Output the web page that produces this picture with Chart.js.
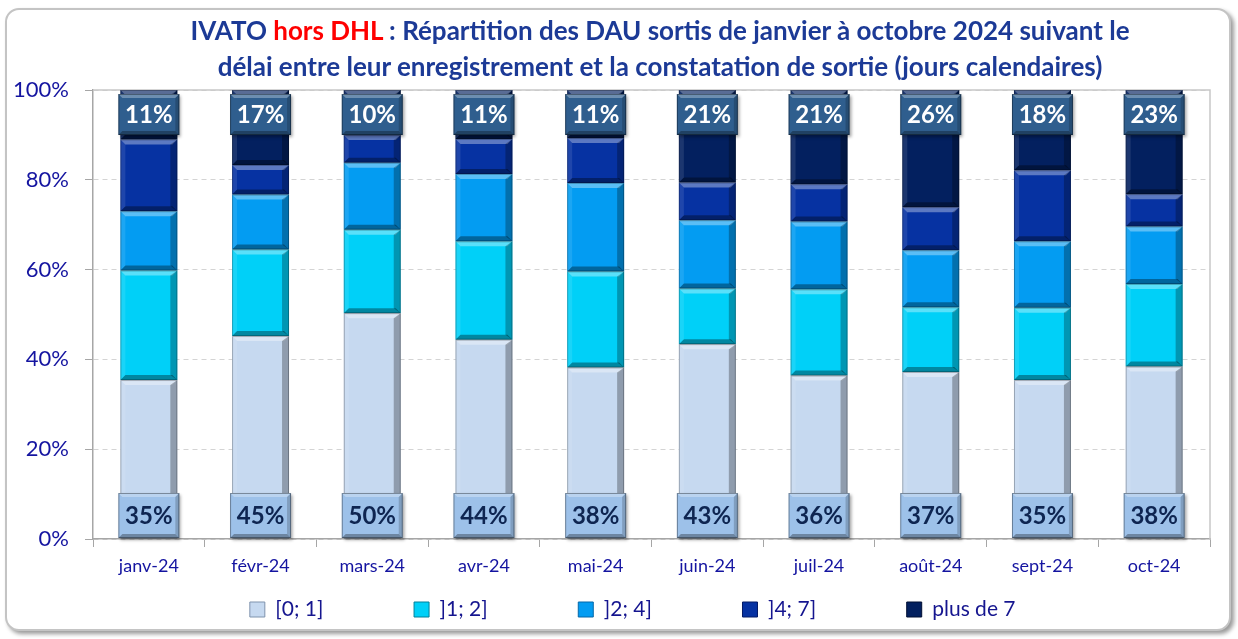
<!DOCTYPE html>
<html>
<head>
<meta charset="utf-8">
<script src="https://cdn.jsdelivr.net/npm/chart.js@4/dist/chart.umd.min.js"></script>
<style>
  html, body { margin: 0; padding: 0; background: #fff; }
  body { width: 1238px; height: 639px; position: relative; overflow: hidden; }
  .card {
    position: absolute; left: 5px; top: 8px; width: 1222px; height: 619px;
    border: 2px solid #c4c4c4; border-radius: 14px;
    box-shadow: 3px 3px 4px rgba(0,0,0,0.4);
    background: #fff;
  }
  .title {
    position: absolute; left: 60px; width: 1200px; top: 12px;
    text-align: center; font-family: Lato, 'Noto Sans', sans-serif;
    font-weight: bold; font-size: 26px; line-height: 36px; color: #1c3a96;
  }
  .title .red { color: #f00; }
  canvas { position: absolute; left: 0; top: 0; }
</style>
</head>
<body>
<div class="card"></div>
<canvas id="chart" width="1238" height="639"></canvas>
<div class="title">IVATO <span class="red">hors DHL</span> : Répartition des DAU sortis de janvier à octobre 2024 suivant le<br>délai entre leur enregistrement et la constatation de sortie (jours calendaires)</div>
<script>
const months = ['janv-24', 'févr-24', 'mars-24', 'avr-24', 'mai-24', 'juin-24', 'juil-24', 'août-24', 'sept-24', 'oct-24'];
const seriesNames = ['[0; 1]', ']1; 2]', ']2; 4]', ']4; 7]', 'plus de 7'];

const d0to1  = [35.4, 45.2, 50.3, 44.4, 38.2, 43.4, 36.4, 37.2, 35.4, 38.4];
const d1to2  = [24.4, 19.3, 18.6, 21.9, 21.4, 12.4, 19.2, 14.4, 16.1, 18.4];
const d2to4  = [13.2, 12.2, 14.9, 15.0, 19.7, 15.2, 15.1, 12.7, 14.8, 12.8];
const d4to7  = [16.0,  6.6,  6.2,  7.8, 10.0,  8.4,  8.3,  9.6, 15.8,  7.2];
const dOver7 = [11.0, 16.7, 10.0, 10.9, 10.7, 20.6, 21.0, 26.1, 17.9, 23.2];

const yTicks = [0, 20, 40, 60, 80, 100];

const colors = ['#c6d9f0', '#00d0f8', '#039cf2', '#0632a2', '#03205f'];
const edgeColors = ['#7f93ad', '#00809a', '#0467a8', '#031a66', '#010f33'];

const font = "Lato, 'Noto Sans', sans-serif";
const axisBlue = '#1414a0';
const legendSize = 21;

// bevel effect on each bar, like the Excel preset
const bevel = {
  id: 'bevel',
  afterDatasetsDraw(chart) {
    const ctx = chart.ctx;
    chart.data.datasets.forEach((ds, i) => {
      chart.getDatasetMeta(i).data.forEach(el => {
        const p = el.getProps(['x', 'y', 'base', 'width'], true);
        const l = p.x - p.width / 2, r = p.x + p.width / 2;
        const t = Math.min(p.y, p.base), b = Math.max(p.y, p.base);
        const s = Math.min(5, (b - t) / 2);
        const poly = (pts, fill) => {
          ctx.beginPath();
          ctx.moveTo(pts[0][0], pts[0][1]);
          pts.slice(1).forEach(q => ctx.lineTo(q[0], q[1]));
          ctx.closePath();
          ctx.fillStyle = fill;
          ctx.fill();
        };
        ctx.save();
        poly([[l, t], [r, t], [r - s, t + s], [l + s, t + s]], 'rgba(255,255,255,0.35)');
        poly([[l, b], [r, b], [r - s, b - s], [l + s, b - s]], 'rgba(0,0,0,0.35)');
        poly([[l, t], [l + s, t + s], [l + s, b - s], [l, b]], 'rgba(255,255,255,0.10)');
        poly([[r, t], [r - s - 2, t + s], [r - s - 2, b - s], [r, b]], 'rgba(0,0,0,0.28)');
        ctx.strokeStyle = 'rgba(0,0,0,0.25)';
        ctx.lineWidth = 1;
        ctx.strokeRect(l + 0.5, t + 0.5, p.width - 1, b - t - 1);
        ctx.restore();
      });
    });
  }
};

// value boxes: first series at the bottom, last series at the top
const valueBoxes = {
  id: 'valueBoxes',
  afterDatasetsDraw(chart) {
    const ctx = chart.ctx;
    const area = chart.chartArea;
    const last = chart.data.datasets.length - 1;
    const drawBox = (cx, top, w, h, fill, textColor, txt) => {
      const l = cx - w / 2, s = 4;
      ctx.save();
      ctx.shadowColor = 'rgba(0,0,0,0.35)';
      ctx.shadowOffsetX = 2;
      ctx.shadowOffsetY = 2;
      ctx.shadowBlur = 3;
      ctx.fillStyle = fill;
      ctx.fillRect(l, top, w, h);
      ctx.restore();
      ctx.save();
      ctx.fillStyle = 'rgba(255,255,255,0.30)';
      ctx.beginPath();
      ctx.moveTo(l, top); ctx.lineTo(l + w, top); ctx.lineTo(l + w - s, top + s); ctx.lineTo(l + s, top + s); ctx.closePath(); ctx.fill();
      ctx.fillStyle = 'rgba(0,0,0,0.30)';
      ctx.beginPath();
      ctx.moveTo(l, top + h); ctx.lineTo(l + w, top + h); ctx.lineTo(l + w - s, top + h - s); ctx.lineTo(l + s, top + h - s); ctx.closePath(); ctx.fill();
      ctx.fillStyle = 'rgba(0,0,0,0.18)';
      ctx.beginPath();
      ctx.moveTo(l + w, top); ctx.lineTo(l + w - s, top + s); ctx.lineTo(l + w - s, top + h - s); ctx.lineTo(l + w, top + h); ctx.closePath(); ctx.fill();
      ctx.strokeStyle = 'rgba(0,0,0,0.35)';
      ctx.strokeRect(l + 0.5, top + 0.5, w - 1, h - 1);
      ctx.font = 'bold 24px ' + font;
      ctx.textAlign = 'center';
      ctx.textBaseline = 'middle';
      ctx.fillStyle = textColor;
      ctx.fillText(txt, cx, top + h / 2 + 1);
      ctx.restore();
    };
    chart.getDatasetMeta(0).data.forEach((el, j) => {
      const v = chart.data.datasets[0].data[j];
      drawBox(el.x, area.bottom - 46, el.width + 4, 45, '#9dc1e9', '#0e2551', Math.round(v) + '%');
    });
    chart.getDatasetMeta(last).data.forEach((el, j) => {
      const v = chart.data.datasets[last].data[j];
      drawBox(el.x, area.top + 4, el.width + 4, 41, '#2f5e8e', '#ffffff', Math.round(v) + '%');
    });
  }
};

// plot area border (top + right)
const plotBorder = {
  id: 'plotBorder',
  beforeDatasetsDraw(chart) {
    const ctx = chart.ctx, a = chart.chartArea;
    ctx.save();
    ctx.strokeStyle = '#c8c8c8';
    ctx.lineWidth = 1.5;
    ctx.beginPath();
    ctx.moveTo(a.left, a.top);
    ctx.lineTo(a.right, a.top);
    ctx.lineTo(a.right, a.bottom);
    ctx.stroke();
    ctx.restore();
  }
};

const allSeries = [d0to1, d1to2, d2to4, d4to7, dOver7];

new Chart(document.getElementById('chart'), {
  type: 'bar',
  data: {
    labels: months,
    datasets: allSeries.map((vals, i) => ({
      label: seriesNames[i],
      data: vals,
      backgroundColor: colors[i],
      borderColor: edgeColors[i],
      borderWidth: 0,
      barPercentage: 0.51,
      categoryPercentage: 1
    }))
  },
  options: {
    responsive: false,
    animation: false,
    layout: { padding: { left: 0, right: 28, top: 90, bottom: 9 } },
    plugins: {
      tooltip: { enabled: false },
      legend: {
        position: 'bottom',
        fullSize: false,
        labels: {
          color: '#15158f',
          font: { family: font, size: legendSize },
          boxWidth: 15,
          boxHeight: 15,
          padding: 10,
          generateLabels(chart) {
            const items = Chart.defaults.plugins.legend.labels.generateLabels(chart);
            const ctx = chart.ctx;
            ctx.save();
            ctx.font = legendSize + 'px ' + font;
            // equal slots for the legend entries (Excel spreads them evenly)
            items.forEach((it, i) => {
              it.fillStyle = colors[i];
              it.strokeStyle = edgeColors[i];
              it.lineWidth = 1;
              const target = i < items.length - 1 ? 164 - 10 - 15 - legendSize / 2 : 146 - 15 - legendSize / 2;
              let t = it.text;
              while (Math.abs(ctx.measureText(t + '\u00a0').width - target) < Math.abs(ctx.measureText(t).width - target)) t += '\u00a0';
              it.text = t;
            });
            ctx.restore();
            return items;
          }
        }
      }
    },
    scales: {
      x: {
        stacked: true,
        grid: { display: true, drawOnChartArea: false, offset: true, tickLength: 8, color: '#a6a6a6' },
        border: { color: '#a6a6a6', width: 1.5 },
        ticks: { color: axisBlue, font: { family: font, size: 18 }, padding: 8 },
        afterFit(scale) { scale.height = 50; }
      },
      y: {
        stacked: true,
        min: 0,
        max: 100,
        afterBuildTicks(scale) { scale.ticks = yTicks.map(v => ({ value: v })); },
        grid: { color: '#d4d4d4', tickLength: 8, tickColor: '#a6a6a6' },
        border: { color: '#a6a6a6', width: 1.5, dash: [5, 4] },
        ticks: { color: axisBlue, font: { family: font, size: 22 }, padding: 16, callback: v => v + '%' },
        afterFit(scale) { scale.width = 93; }
      }
    }
  },
  plugins: [plotBorder, bevel, valueBoxes]
});
</script>
</body>
</html>
